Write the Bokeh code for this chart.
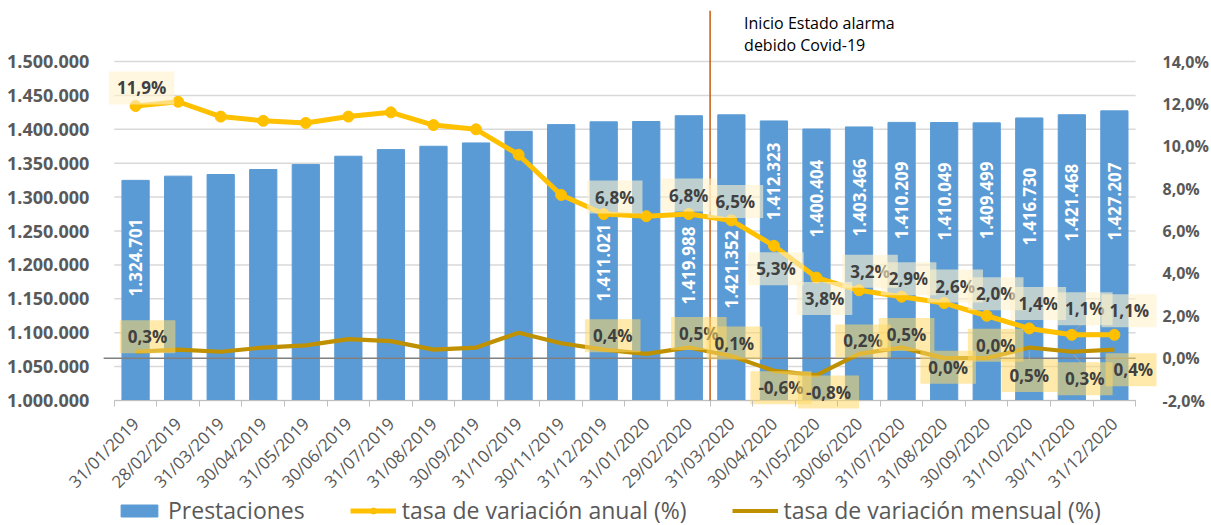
import math
from bokeh.plotting import figure
from bokeh.models import (Range1d, LinearAxis, FixedTicker, ColumnDataSource, Legend,
                          LegendItem, Label)
from bokeh.core.properties import value
from bokeh.embed import file_html
from bokeh.resources import INLINE

# ---------------- data ----------------
categories = ["31/01/2019", "28/02/2019", "31/03/2019", "30/04/2019", "31/05/2019", "30/06/2019",
              "31/07/2019", "31/08/2019", "30/09/2019", "31/10/2019", "30/11/2019", "31/12/2019",
              "31/01/2020", "29/02/2020", "31/03/2020", "30/04/2020", "31/05/2020", "30/06/2020",
              "31/07/2020", "31/08/2020", "30/09/2020", "31/10/2020", "30/11/2020", "31/12/2020"]
prestaciones = [1324701, 1330900, 1333300, 1340700, 1348000, 1360300, 1370100, 1375000,
                1379900, 1397000, 1406900, 1411021, 1411500, 1419988, 1421352, 1412323,
                1400404, 1403466, 1410209, 1410049, 1409499, 1416730, 1421468, 1427207]
tasa_anual = [11.9, 12.1, 11.4, 11.2, 11.1, 11.4, 11.6, 11.0, 10.8, 9.6, 7.7, 6.8,
              6.7, 6.8, 6.5, 5.3, 3.8, 3.2, 2.9, 2.6, 2.0, 1.4, 1.1, 1.1]
tasa_mensual = [0.3, 0.4, 0.3, 0.5, 0.6, 0.9, 0.8, 0.4, 0.5, 1.2, 0.7, 0.4,
                0.2, 0.5, 0.1, -0.6, -0.8, 0.2, 0.5, 0.0, 0.0, 0.5, 0.3, 0.4]
labeled = [0, 11, 13, 14, 15, 16, 17, 18, 19, 20, 21, 22, 23]
left_ticks = [1000000 + 50000 * k for k in range(11)]
right_ticks = [-2, 0, 2, 4, 6, 8, 10, 12, 14]
covid_text = ["Inicio Estado alarma", "debido Covid-19"]
covid_month = 13.5          # between 29/02/2020 and 31/03/2020
series_names = ["Prestaciones", "tasa de variación anual (%)", "tasa de variación mensual (%)"]

# ---------------- layout helpers (label placement, px / axis units) ----------------
bar_label_pos = {0: 1210900, 11: 1203500, 13: 1199100, 14: 1193200, 15: 1323000, 16: 1297900,
                 17: 1299400, 18: 1295000, 19: 1293500, 20: 1295000, 21: 1286100, 22: 1292000,
                 23: 1293500}
ann_off = {0: (6, -18), 11: (11, -17), 13: (0, -19), 14: (4, -19), 15: (2, 23), 16: (8, 21),
           17: (11, -19), 18: (7, -18), 19: (11, -17), 20: (9, -22), 21: (9, -25), 22: (13, -26),
           23: (15, -24)}
men_off = {0: (12, -15), 11: (9, -14), 13: (10, -14), 14: (3, -13), 15: (7, 17), 16: (12, 17),
           17: (4, -13), 18: (5, -13), 19: (4, 9), 20: (9, -13), 21: (0, 28), 22: (13, 27),
           23: (19, 20)}
# leader lines: (series, index, start dx, start dy, end dx, end dy) in px from the point
leaders = [("men", 21, 0, 3, 0, 12), ("men", 22, 2, 3, 10, 12), ("ann", 22, 3, -4, 11, -12)]


def fmt_thousands(v):
    return f"{v:,}".replace(",", ".")


def fmt_pct(v):
    return f"{v:.1f}".replace(".", ",") + "%"


FONT = "Open Sans"
GRAY = "#595959"
BLUE, YELLOW, GOLD = "#5B9BD5", "#FFC000", "#BF9000"

W, H = 1211, 525
CAT_L, FRAME_R, FRAME_T = 114, 1158, 10   # category area starts at x=114
AXIS_Y = 400                  # pixel row of the category axis
PX_PER_CAT = 42.63
n = len(categories)

units_per_px = 500000 / 339   # left axis: 1.000.000 .. 1.500.000 over 339 px
pct_per_px = 16 / 339
y_bottom = 1000000 - (H - AXIS_Y) * units_per_px
y_top = 1500000 + (61 - FRAME_T) * units_per_px
pct_per_unit = 16 / 500000
pct_bottom = -2 + (y_bottom - 1000000) * pct_per_unit
pct_top = -2 + (y_top - 1000000) * pct_per_unit
x_left = -0.5 - CAT_L / PX_PER_CAT
x_right = n - 0.5 + (FRAME_R - CAT_L - n * PX_PER_CAT) / PX_PER_CAT

p = figure(width=W, height=H, x_range=Range1d(x_left, x_right), y_range=Range1d(y_bottom, y_top),
           output_backend="svg", toolbar_location=None,
           min_border_left=0, min_border_right=W - FRAME_R, min_border_top=FRAME_T,
           min_border_bottom=0)
p.outline_line_color = None
p.extra_y_ranges = {"pct": Range1d(pct_bottom, pct_top)}

xs = list(range(n))

# grid lines (only across the category area)
p.segment(x0=[-0.5] * len(left_ticks), x1=[n - 0.5] * len(left_ticks), y0=left_ticks, y1=left_ticks,
          line_color="#D9D9D9", line_width=1.5)
p.xgrid.visible = False
p.ygrid.visible = False

# bars
bars = p.vbar(x=xs, top=prestaciones, bottom=1000000, width=0.64, color=BLUE)

# x axis base line
p.segment(x0=[-0.5], x1=[n - 0.5], y0=[1000000], y1=[1000000], line_color="#BFBFBF", line_width=1.2)

# zero line of secondary axis
p.segment(x0=[-0.75], x1=[n - 0.5], y0=[0], y1=[0], y_range_name="pct",
          line_color="#808080", line_width=1.5)

# covid line
p.segment(x0=[covid_month], x1=[covid_month], y0=[1000000], y1=[y_top],
          line_color="#C55A11", line_width=1.5)

# lines
men_line = p.line(xs, tasa_mensual, y_range_name="pct", line_color=GOLD, line_width=4.2)
ann_line = p.line(xs, tasa_anual, y_range_name="pct", line_color=YELLOW, line_width=5)
ann_pts = p.scatter(xs, tasa_anual, y_range_name="pct", size=11, color=YELLOW)

# leader lines of a few data labels
series = {"men": tasa_mensual, "ann": tasa_anual}
lx0, ly0, lx1, ly1 = [], [], [], []
for s, i, ax, ay, bx, by in leaders:
    v = series[s][i]
    lx0.append(i + ax / PX_PER_CAT)
    ly0.append(v - ay * pct_per_px)
    lx1.append(i + bx / PX_PER_CAT)
    ly1.append(v - by * pct_per_px)
p.segment(x0=lx0, y0=ly0, x1=lx1, y1=ly1, y_range_name="pct", line_color="#A6A6A6", line_width=1)

# bar labels
bsrc = ColumnDataSource(dict(x=labeled, y=[bar_label_pos[i] for i in labeled],
                             text=[fmt_thousands(prestaciones[i]) for i in labeled]))
p.text(x="x", y="y", text="text", source=bsrc, angle=math.pi / 2, text_align="center",
       text_baseline="middle", text_color="white", text_font=value(FONT),
       text_font_style="bold", text_font_size="17px")

# percentage labels
msrc = ColumnDataSource(dict(x=labeled, y=[tasa_mensual[i] for i in labeled],
                             text=[fmt_pct(tasa_mensual[i]) for i in labeled],
                             dx=[men_off[i][0] for i in labeled],
                             dy=[men_off[i][1] for i in labeled]))
p.text(x="x", y="y", text="text", source=msrc, y_range_name="pct", x_offset="dx", y_offset="dy",
       text_align="center", text_baseline="middle", text_color="#404040",
       text_font=value(FONT), text_font_style="bold", text_font_size="17px",
       background_fill_color="#FFD966", background_fill_alpha=0.55, padding=(8, 5))

asrc = ColumnDataSource(dict(x=labeled, y=[tasa_anual[i] for i in labeled],
                             text=[fmt_pct(tasa_anual[i]) for i in labeled],
                             dx=[ann_off[i][0] for i in labeled],
                             dy=[ann_off[i][1] for i in labeled]))
p.text(x="x", y="y", text="text", source=asrc, y_range_name="pct", x_offset="dx", y_offset="dy",
       text_align="center", text_baseline="middle", text_color="#404040",
       text_font=value(FONT), text_font_style="bold", text_font_size="17px",
       background_fill_color="#FFF2CC", background_fill_alpha=0.6, padding=(8, 5))

# covid annotation
for k, t in enumerate(covid_text):
    p.add_layout(Label(x=covid_month, y=H - 22 - 22 * k, y_units="screen", x_offset=34, text=t,
                       text_baseline="middle", text_font=FONT, text_font_size="16px",
                       text_color="#000000"))

# axes
yax = p.yaxis[0]
yax.fixed_location = -0.5
yax.ticker = FixedTicker(ticks=left_ticks)
yax.major_label_overrides = {v: fmt_thousands(v) for v in left_ticks}
yax.axis_line_color = None
yax.major_tick_line_color = None
yax.minor_tick_line_color = None
yax.major_label_text_font = FONT
yax.major_label_text_font_style = "bold"
yax.major_label_text_font_size = "18px"
yax.major_label_text_color = GRAY
yax.major_label_standoff = 19

raxis = LinearAxis(y_range_name="pct", ticker=FixedTicker(ticks=right_ticks))
raxis.major_label_overrides = {v: fmt_pct(v) for v in right_ticks}
raxis.axis_line_color = None
raxis.major_tick_line_color = None
raxis.minor_tick_line_color = None
raxis.major_label_text_font = FONT
raxis.major_label_text_font_style = "bold"
raxis.major_label_text_font_size = "16px"
raxis.major_label_text_color = GRAY
raxis.major_label_standoff = 0
p.add_layout(raxis, "right")

xax = p.xaxis[0]
xax.fixed_location = 1000000
xax.ticker = FixedTicker(ticks=xs, minor_ticks=[i - 0.5 for i in range(n + 1)])
xax.major_label_overrides = {i: c for i, c in enumerate(categories)}
xax.major_label_orientation = math.pi / 4
xax.axis_line_color = None
xax.major_tick_line_color = None
xax.minor_tick_line_color = "#BFBFBF"
xax.minor_tick_in = 0
xax.minor_tick_out = 6
xax.major_label_text_font = FONT
xax.major_label_text_font_size = "17px"
xax.major_label_text_color = GRAY
xax.major_label_standoff = 14

legend = Legend(items=[LegendItem(label=series_names[0], renderers=[bars]),
                       LegendItem(label=series_names[1], renderers=[ann_line, ann_pts]),
                       LegendItem(label=series_names[2], renderers=[men_line])],
                location=(CAT_L + 2, -1), orientation="horizontal", padding=0, spacing=45, margin=0,
                glyph_width=46, glyph_height=15, label_height=15, label_standoff=6,
                border_line_color=None, background_fill_alpha=0,
                label_text_font=FONT, label_text_font_size="23px", label_text_color=GRAY)
p.add_layout(legend)

open("out.html", "w").write(file_html(p, INLINE))
